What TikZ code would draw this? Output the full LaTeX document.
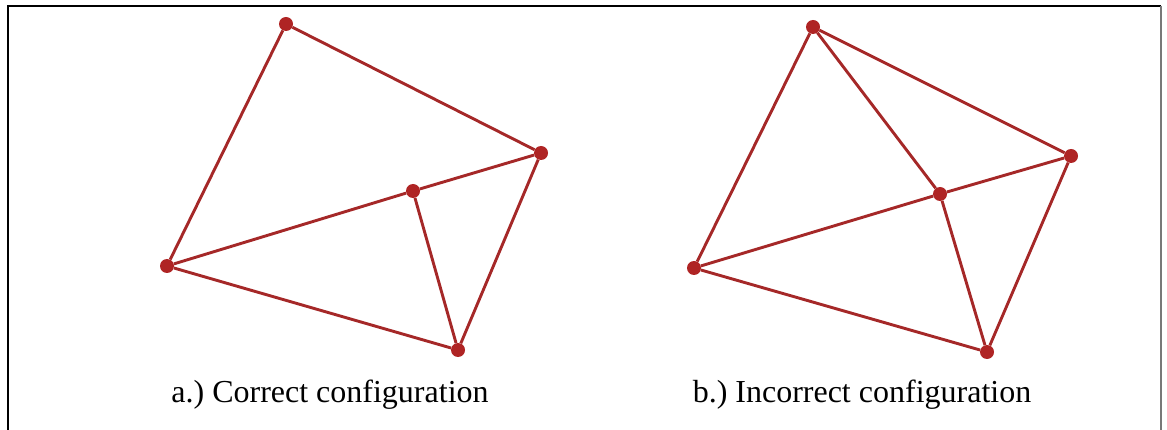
\documentclass[tikz,border=0pt]{standalone}
\usepackage{fontspec}
\setmainfont{Liberation Serif}
\usepackage{xcolor}
\usetikzlibrary{positioning}

\definecolor{meshred}{RGB}{165,40,40}
\definecolor{dotred}{RGB}{175,36,36}
\definecolor{framegray}{RGB}{120,120,120}

\frenchspacing

\begin{document}
\begin{tikzpicture}[
        x=1pt, y=-1pt,
        vtx/.style={circle, fill=dotred, inner sep=0pt, minimum size=14pt},
        link/.style={meshred, line width=2.9pt},
        caption/.style={font=\fontsize{32}{38}\selectfont, anchor=base, inner sep=0pt},
      ]
      \useasboundingbox (0,0) rectangle (1167,430);

      % frame
      \draw[line width=2pt] (8,430) -- (8,6) -- (1161,6);
      \draw[framegray, line width=2.5pt] (1161,6) -- (1161,430);

      % a.) correct
      \node[vtx] (aT) at (286,24)  {};
      \node[vtx] (aR) at (541,153) {};
      \node[vtx] (aM) at (413,191) {};
      \node[vtx] (aL) at (167,266) {};
      \node[vtx] (aB) at (458,350) {};

      \path[link]
      (aT) edge (aL)
      (aT) edge (aR)
      (aR) edge (aM)
      (aM) edge (aL)
      (aL) edge (aB)
      (aB) edge (aR)
      (aM) edge (aB);

      % b.) incorrect
      \node[vtx] (bT) at (813,27)  {};
      \node[vtx] (bR) at (1071,156) {};
      \node[vtx] (bM) at (940,194) {};
      \node[vtx] (bL) at (694,268) {};
      \node[vtx] (bB) at (987,352) {};

      \path[link]
      (bT) edge (bL)
      (bT) edge (bR)
      (bT) edge (bM)
      (bR) edge (bM)
      (bM) edge (bL)
      (bL) edge (bB)
      (bB) edge (bR)
      (bM) edge (bB);

      \node[caption] (capA) at (330,402) {a.) Correct configuration};
      \node[caption] (capB) at (862,402) {b.) Incorrect configuration};
    \end{tikzpicture}
\end{document}
